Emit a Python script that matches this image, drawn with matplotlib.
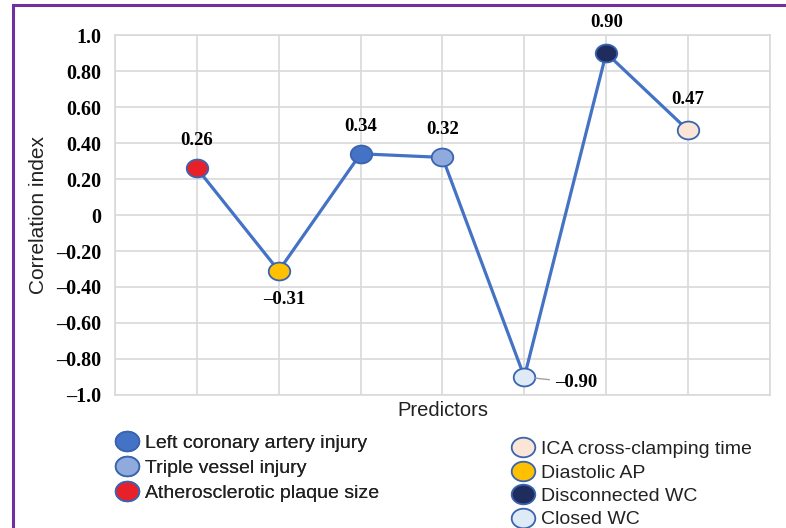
import numpy as np
import matplotlib
matplotlib.use('Agg')
import matplotlib.pyplot as plt
from matplotlib.path import Path
from matplotlib.lines import Line2D
from matplotlib.patches import Rectangle

# data
predictors = ['Atherosclerotic plaque size', 'Diastolic AP', 'Left coronary artery injury',
              'Triple vessel injury', 'Closed WC', 'Disconnected WC', 'ICA cross-clamping time']
values = [0.26, -0.31, 0.34, 0.32, -0.90, 0.90, 0.47]
value_labels = ['0.26', '–0.31', '0.34', '0.32', '–0.90', '0.90', '0.47']
ytick_vals = [-1.0, -0.8, -0.6, -0.4, -0.2, 0, 0.2, 0.4, 0.6, 0.8, 1.0]
ytick_labels = ['–1.0', '–0.80', '–0.60', '–0.40', '–0.20', '0',
                '0.20', '0.40', '0.60', '0.80', '1.0']
legend_left = ['Left coronary artery injury', 'Triple vessel injury', 'Atherosclerotic plaque size']
legend_right = ['ICA cross-clamping time', 'Diastolic AP', 'Disconnected WC', 'Closed WC']

colors = {
    'Left coronary artery injury': '#4472C4',
    'Triple vessel injury': '#8FAADC',
    'Atherosclerotic plaque size': '#E8202A',
    'ICA cross-clamping time': '#FBE5D6',
    'Diastolic AP': '#FFC000',
    'Disconnected WC': '#1F2D5E',
    'Closed WC': '#DEEBF7',
}
line_color = '#4472C4'
edge_color = '#3A64B0'

# label offsets in points (dx, dy)
offsets = [(0, 20), (4, -21), (0, 20), (0, 20), (0, 0), (0, 22), (0, 22)]

# slightly flattened circle as marker
theta = np.linspace(0, 2 * np.pi, 60)
ellipse = Path(np.column_stack([np.cos(theta), 0.83 * np.sin(theta)]), closed=True)

serif = ['Liberation Serif', 'DejaVu Serif']
sans = ['Liberation Sans', 'DejaVu Sans']

fig = plt.figure(figsize=(7.86, 5.28), dpi=100)
ax = fig.add_axes([0.1463, 0.2519, 0.8333, 0.6818])

x = np.arange(1, len(values) + 1)
ax.plot(x, values, color=line_color, linewidth=2.3, zorder=2)
for xi, v, name in zip(x, values, predictors):
    ax.plot(xi, v, marker=ellipse, markersize=15.5, markerfacecolor=colors[name],
            markeredgecolor=edge_color, markeredgewidth=1.3, linestyle='none', zorder=3)

for xi, v, lab, off in zip(x, values, value_labels, offsets):
    if lab == '–0.90':
        ax.annotate(lab, xy=(xi, v), xytext=(22, -4), textcoords='offset points',
                    ha='left', va='center', fontsize=13.5, fontweight='bold', family=serif,
                    arrowprops=dict(arrowstyle='-', color='#A0A0A0', lw=1,
                                    shrinkA=2, shrinkB=8))
    else:
        ax.annotate(lab, xy=(xi, v), xytext=off, textcoords='offset points',
                    ha='center', va='center', fontsize=13.5, fontweight='bold', family=serif)

ax.set_xlim(0, 8)
ax.set_ylim(-1.0, 1.0)
ax.set_xticks(np.arange(0, 9))
ax.set_xticklabels([])
ax.set_yticks(ytick_vals)
ax.set_yticklabels(ytick_labels, fontsize=14.5, fontweight='bold', family=serif)
ax.tick_params(length=0, pad=10)
ax.grid(True, color='#D9D9D9', linewidth=1.2, zorder=0)
ax.set_axisbelow(True)
for s in ax.spines.values():
    s.set_color('#D9D9D9')
    s.set_linewidth(1.2)

ax.set_ylabel('Correlation index', fontsize=15, family=sans, color='#222222', labelpad=6)
ax.set_xlabel('Predictors', fontsize=14.5, family=sans, color='#222222', labelpad=-6)

def handles(names):
    return [Line2D([], [], marker=ellipse, markersize=17, markerfacecolor=colors[n],
                   markeredgecolor=edge_color, markeredgewidth=1.3, linestyle='none')
            for n in names]

leg1 = fig.legend(handles(legend_left), legend_left, loc='upper left',
                  bbox_to_anchor=(97 / 786, 1 - 417 / 528), frameon=False,
                  prop={'family': sans, 'size': 14}, labelspacing=0.38,
                  handletextpad=0.25, handlelength=1.3, labelcolor='#222222')
leg2 = fig.legend(handles(legend_right), legend_right, loc='upper left',
                  bbox_to_anchor=(493 / 786, 1 - 423 / 528), frameon=False,
                  prop={'family': sans, 'size': 14}, labelspacing=0.3,
                  handletextpad=0.25, handlelength=1.3, labelcolor='#222222')
fig.add_artist(leg1)

# purple frame
fig.add_artist(Rectangle((13 / 786, -0.05), 1.0, 1 - 5 / 528 + 0.05, transform=fig.transFigure,
                         fill=False, edgecolor='#7030A0', linewidth=2.2))

fig.savefig('out.png', dpi=100)
